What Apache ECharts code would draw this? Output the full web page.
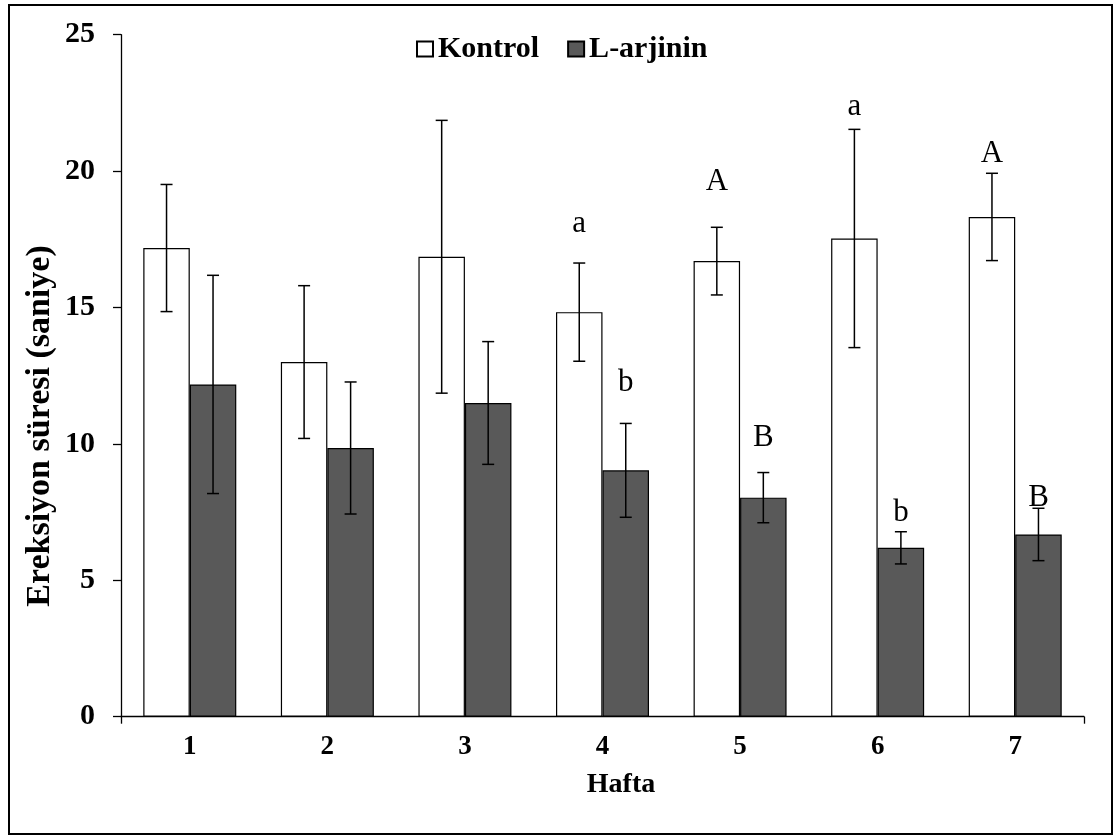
<!DOCTYPE html>
<html>
<head>
<meta charset="utf-8">
<script src="https://cdn.jsdelivr.net/npm/echarts@6/dist/echarts.min.js"></script>
<style>
html,body{margin:0;padding:0;background:#fff;}
#chart{width:1117px;height:836px;}
</style>
</head>
<body>
<div id="chart"></div>
<script>
// ---- data ----
const weeks = ['1', '2', '3', '4', '5', '6', '7'];
const kontrol = [17.18, 13.0, 16.86, 14.83, 16.7, 17.53, 18.32];
const kontrolErr = [2.33, 2.8, 5.0, 1.8, 1.24, 4.0, 1.6];
const larjinin = [12.18, 9.85, 11.5, 9.03, 8.03, 6.19, 6.68];
const larjininErr = [4.0, 2.42, 2.25, 1.72, 0.92, 0.59, 0.96];
const kontrolLetters = ['', '', '', 'a', 'A', 'a', 'A'];
const larjininLetters = ['', '', '', 'b', 'B', 'b', 'B'];
// baseline (value units) of each significance letter
const kontrolLetterAt = [null, null, null, 17.72, 19.23, 21.98, 20.26];
const larjininLetterAt = [null, null, null, 11.87, 9.85, 7.10, 7.65];
const yTicks = [0, 5, 10, 15, 20, 25];

const serif = '"Liberation Serif", "Times New Roman", serif';
const BAR_FRAC = 0.338;
const LETTER_SIZE = 31;

function barX(api, idx, side) {
  const band = api.size([1, 0])[0];
  const w = band * BAR_FRAC;
  return api.coord([idx, 0])[0] + side * w / 2;
}

function errData(vals, errs) {
  return vals.map((v, i) => [i, v + errs[i], v - errs[i]]);
}

function errRender(side) {
  return function (params, api) {
    const idx = api.value(0);
    const x = barX(api, idx, side);
    const top = api.coord([idx, api.value(1)])[1];
    const bot = api.coord([idx, api.value(2)])[1];
    const cap = 6;
    const st = { stroke: '#000', lineWidth: 1.5 };
    return {
      type: 'group',
      children: [
        { type: 'line', shape: { x1: x, y1: top, x2: x, y2: bot }, style: st },
        { type: 'line', shape: { x1: x - cap, y1: top, x2: x + cap, y2: top }, style: st },
        { type: 'line', shape: { x1: x - cap, y1: bot, x2: x + cap, y2: bot }, style: st }
      ]
    };
  };
}

const annots = [];
kontrolLetters.forEach((t, i) => { if (t) annots.push({ i: i, y: kontrolLetterAt[i], t: t, side: -1 }); });
larjininLetters.forEach((t, i) => { if (t) annots.push({ i: i, y: larjininLetterAt[i], t: t, side: 1 }); });

const chart = echarts.init(document.getElementById('chart'));
chart.setOption({
  animation: false,
  backgroundColor: '#fff',
  textStyle: { fontFamily: serif },
  grid: { left: 121, right: 33, top: 34.7, bottom: 119.3 },
  legend: {
    left: 411, top: 29,
    icon: 'rect',
    itemWidth: 16, itemHeight: 15, itemGap: 28,
    textStyle: { fontFamily: serif, fontWeight: 'bold', fontSize: 30, color: '#000' },
    data: ['Kontrol', 'L-arjinin']
  },
  xAxis: [{
    type: 'category',
    data: weeks,
    axisLine: { show: true, lineStyle: { color: '#000', width: 1.3 } },
    axisTick: { show: false },
    axisLabel: { color: '#000', fontFamily: serif, fontWeight: 'bold', fontSize: 27, margin: 17 }
  }, {
    type: 'value', min: 0, max: 7, interval: 7, position: 'bottom',
    axisLine: { show: false },
    axisTick: { show: true, length: 7, lineStyle: { color: '#000', width: 1.3 } },
    axisLabel: { show: false },
    splitLine: { show: false }
  }],
  yAxis: {
    type: 'value', min: 0, max: 25, interval: 5,
    axisLine: { show: true, lineStyle: { color: '#000', width: 1.3 } },
    axisTick: { show: true, length: 8, lineStyle: { color: '#000', width: 1.3 } },
    axisLabel: { color: '#000', fontFamily: serif, fontWeight: 'bold', fontSize: 30, margin: 26 },
    splitLine: { show: false }
  },
  graphic: [
    { type: 'rect', shape: { x: 9, y: 5, width: 1103, height: 829 }, style: { fill: 'none', stroke: '#000', lineWidth: 2 }, silent: true, z: 100 },
    { type: 'text', x: 40, y: 426, rotation: Math.PI / 2,
      style: { text: 'Ereksiyon süresi (saniye)', font: 'bold 34px ' + serif, fill: '#000', align: 'center', verticalAlign: 'middle' } },
    { type: 'text', x: 621, y: 785,
      style: { text: 'Hafta', font: 'bold 28px ' + serif, fill: '#000', align: 'center', verticalAlign: 'middle' } }
  ],
  series: [
    {
      name: 'Kontrol', type: 'bar', data: kontrol,
      barWidth: (BAR_FRAC * 100) + '%', barGap: '0%',
      itemStyle: { color: '#fff', borderColor: '#000', borderWidth: 1.2 }
    },
    {
      name: 'L-arjinin', type: 'bar', data: larjinin,
      barWidth: (BAR_FRAC * 100) + '%', barGap: '0%',
      itemStyle: { color: '#595959', borderColor: '#000', borderWidth: 1.2 }
    },
    {
      type: 'custom', name: 'errK', data: errData(kontrol, kontrolErr),
      encode: { x: 0, y: [1, 2] }, renderItem: errRender(-1), z: 5
    },
    {
      type: 'custom', name: 'errL', data: errData(larjinin, larjininErr),
      encode: { x: 0, y: [1, 2] }, renderItem: errRender(1), z: 5
    },
    {
      type: 'custom', name: 'letters', data: annots.map(a => [a.i, a.y]),
      encode: { x: 0, y: 1 }, z: 6,
      renderItem: function (params, api) {
        const a = annots[params.dataIndex];
        const x = barX(api, a.i, a.side);
        const y = api.coord([a.i, a.y])[1] + LETTER_SIZE * 0.18;
        return {
          type: 'text', x: x, y: y,
          style: { text: a.t, font: LETTER_SIZE + 'px ' + serif, fill: '#000', align: 'center', verticalAlign: 'bottom' }
        };
      }
    }
  ]
});
</script>
</body>
</html>
